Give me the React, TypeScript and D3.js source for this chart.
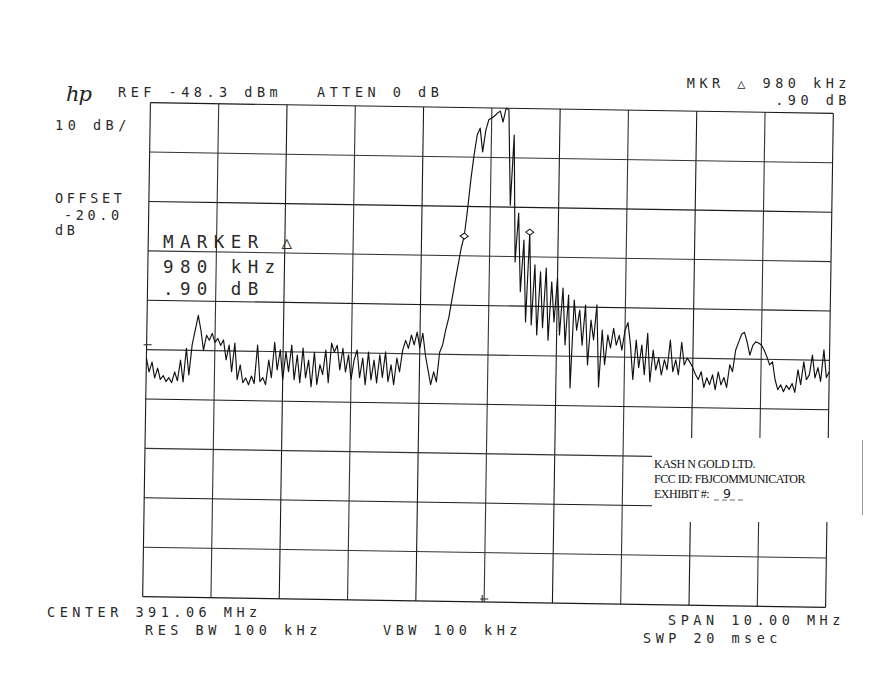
import React from "react";
import * as d3 from "d3";

// ---- Instrument settings (read from the annotations) ----
const centerMHz = 391.06;
const spanMHz = 10.0;
const refLevelDbm = -48.3;
const dbPerDiv = 10;
const xDivisions = 10;
const yDivisions = 10;

// ---- Header / footer annotation text ----
const headerLeft = ["REF -48.3 dBm", "ATTEN 0 dB"];
const headerRight = ["MKR \u25B3 980 kHz", ".90 dB"];
const sideLabels = ["10 dB/", "OFFSET", "-20.0", "dB"];
const markerBlock = ["MARKER \u25B3", "980 kHz", ".90 dB"];
const footerLabels = ["CENTER 391.06 MHz", "RES BW 100 kHz", "VBW 100 kHz", "SPAN 10.00 MHz", "SWP 20 msec"];
const stampLines = ["KASH N GOLD LTD.", "FCC ID:  FBJCOMMUNICATOR", "EXHIBIT #:"];
const exhibitNo = "9";

// ---- Trace (dBm), sweep points equally spaced across the span ----
const traceDbm = [
  -100.0, -102.8, -100.8, -104.0, -102.0, -104.3, -103.5, -104.7, -103.9, -104.9,
  -102.7, -104.5, -100.3, -104.7, -97.9, -103.3, -97.2, -94.2, -91.2, -94.2,
  -98.2, -95.2, -96.2, -94.8, -96.6, -95.8, -97.2, -96.1, -100.1, -97.1,
  -102.5, -96.7, -104.1, -101.1, -104.7, -103.7, -105.1, -103.3, -104.8, -97.0,
  -104.4, -103.6, -105.0, -100.0, -103.6, -96.4, -102.0, -97.9, -104.0, -98.3,
  -102.3, -96.9, -103.9, -98.9, -104.5, -97.5, -103.5, -99.9, -105.3, -98.3,
  -104.8, -100.8, -102.8, -97.8, -104.4, -96.4, -98.2, -96.8, -101.8, -97.4,
  -102.2, -98.7, -103.7, -99.7, -97.7, -103.3, -99.3, -104.7, -98.1, -103.7,
  -99.7, -104.3, -98.6, -103.2, -98.0, -104.0, -100.6, -104.6, -99.2, -102.0,
  -97.6, -95.6, -97.2, -94.5, -96.5, -93.9, -97.1, -94.1, -98.5, -101.5,
  -104.5, -101.9, -103.9, -97.9, -96.4, -93.4, -90.9, -87.3, -83.6, -80.2,
  -76.7, -74.3, -69.0, -62.9, -57.9, -53.8, -52.4, -57.2, -52.8, -50.7,
  -50.3, -49.9, -49.3, -48.9, -51.1, -48.3, -48.6, -67.9, -53.7, -79.4,
  -69.5, -85.4, -74.9, -91.5, -73.3, -92.1, -79.9, -94.1, -81.3, -92.6,
  -80.5, -95.1, -83.3, -91.4, -82.5, -94.0, -84.5, -96.0, -85.9, -104.7,
  -86.9, -93.0, -88.9, -96.0, -87.9, -100.0, -90.9, -94.9, -87.8, -104.4,
  -92.9, -99.9, -93.9, -96.5, -92.5, -95.9, -93.9, -96.9, -92.9, -91.3,
  -95.8, -102.8, -94.8, -100.4, -95.8, -101.8, -93.4, -103.2, -96.8, -100.8,
  -98.4, -101.8, -98.7, -100.7, -94.7, -101.1, -98.7, -101.7, -95.1, -99.7,
  -98.3, -99.1, -100.2, -101.6, -102.6, -101.0, -104.2, -102.2, -103.6, -101.6,
  -104.6, -101.0, -103.6, -102.1, -104.1, -99.5, -100.9, -96.5, -94.9, -93.3,
  -92.9, -94.9, -97.5, -95.5, -94.8, -95.0, -95.4, -96.4, -97.8, -99.4,
  -98.8, -102.4, -104.4, -103.4, -104.8, -103.5, -104.3, -103.1, -104.9, -100.3,
  -103.3, -98.7, -102.3, -101.3, -97.3, -101.9, -99.8, -102.6, -96.2, -101.8,
  -100.6,
];

// marker sweep-point indices (normal marker and delta marker)
const markerIndices = [111, 134];

const W = 878;
const H = 700;

const plotFont = "'DejaVu Sans Mono', monospace";

export default function App() {
  const startMHz = centerMHz - spanMHz / 2;
  const stopMHz = centerMHz + spanMHz / 2;
  const bottomDbm = refLevelDbm - dbPerDiv * yDivisions;

  const x = d3.scaleLinear().domain([startMHz, stopMHz]).range([146.5, 829.5]);
  const y = d3.scaleLinear().domain([bottomDbm, refLevelDbm]).range([602, 108]);

  const n = traceDbm.length;
  const freqs = traceDbm.map((_, i) => startMHz + (i * spanMHz) / (n - 1));
  const pts: [number, number][] = traceDbm.map((v, i) => [freqs[i], v]);

  const line = d3
    .line<[number, number]>()
    .x((d) => x(d[0]))
    .y((d) => y(d[1]));

  const vTicks = d3.range(xDivisions + 1).map((k) => startMHz + (k * spanMHz) / xDivisions);
  const hTicks = d3.range(yDivisions + 1).map((k) => bottomDbm + k * dbPerDiv);

  const cx = (x.range()[0] + x.range()[1]) / 2;
  const cy = (y.range()[0] + y.range()[1]) / 2;

  const smallText = { fontFamily: plotFont, fontSize: 13.5, letterSpacing: 4.5, fill: "#2a2a2a" } as const;
  const bigText = { fontFamily: plotFont, fontSize: 17.5, letterSpacing: 6.4, fill: "#2a2a2a" } as const;

  return (
    <svg
      width={W}
      height={H}
      viewBox={`0 0 ${W} ${H}`}
      style={{ position: "absolute", left: 0, top: 0, background: "#fff" }}
    >
      <rect x={0} y={0} width={W} height={H} fill="#fff" />

      {/* hp logo */}
      <text x={66} y={101} fontFamily="'DejaVu Serif', serif" fontStyle="italic" fontSize={21} fill="#222" letterSpacing={-1}>
        hp
      </text>

      {/* header */}
      <text x={118} y={97} {...smallText}>{headerLeft[0]}</text>
      <text x={317} y={97} {...smallText}>{headerLeft[1]}</text>
      <text x={851} y={88} textAnchor="end" {...smallText}>{headerRight[0]}</text>
      <text x={851} y={105} textAnchor="end" {...smallText}>{headerRight[1]}</text>

      {/* side labels */}
      <text x={55} y={130} {...smallText}>{sideLabels[0]}</text>
      <text x={55} y={203} {...smallText} letterSpacing={3.6}>{sideLabels[1]}</text>
      <text x={64} y={220} {...smallText} letterSpacing={3.6}>{sideLabels[2]}</text>
      <text x={55} y={235} {...smallText} letterSpacing={3.6}>{sideLabels[3]}</text>

      {/* footer */}
      <text x={47} y={617} {...smallText}>{footerLabels[0]}</text>
      <text x={145} y={635} {...smallText}>{footerLabels[1]}</text>
      <text x={383} y={635} {...smallText}>{footerLabels[2]}</text>
      <text x={668} y={625} {...smallText}>{footerLabels[3]}</text>
      <text x={643} y={643} {...smallText}>{footerLabels[4]}</text>

      {/* graticule + trace (the scanned sheet is tilted slightly) */}
      <g transform={`rotate(0.9 ${cx} ${cy})`}>
        {vTicks.map((f, k) => (
          <line
            key={"v" + k}
            x1={x(f)}
            x2={x(f)}
            y1={y.range()[1]}
            y2={y.range()[0]}
            stroke={k % 2 === 0 ? "#1a1a1a" : "#333"}
            strokeWidth={1.1}
          />
        ))}
        {hTicks.map((v, k) => (
          <line
            key={"h" + k}
            x1={x.range()[0]}
            x2={x.range()[1]}
            y1={y(v)}
            y2={y(v)}
            stroke={k % 2 === 0 ? "#1a1a1a" : "#333"}
            strokeWidth={1.1}
          />
        ))}
        {/* reference tick on left edge */}
        <line x1={x.range()[0] - 3} x2={x.range()[0] + 5} y1={y(-97.3)} y2={y(-97.3)} stroke="#222" strokeWidth={1} />
        {/* centre-frequency tick */}
        <line x1={x(centerMHz) - 4} x2={x(centerMHz) + 4} y1={y(bottomDbm) - 3} y2={y(bottomDbm) - 3} stroke="#222" strokeWidth={1} />
        <line x1={x(centerMHz) - 2} x2={x(centerMHz) - 2} y1={y(bottomDbm) - 7} y2={y(bottomDbm)} stroke="#222" strokeWidth={1} />

        <path d={line(pts) || ""} fill="none" stroke="#111" strokeWidth={1.15} strokeLinejoin="round" />

        {markerIndices.map((i) => {
          const px = x(freqs[i]);
          const py = y(traceDbm[i]);
          return (
            <path
              key={"m" + i}
              d={`M${px - 4},${py} L${px},${py - 3} L${px + 4},${py} L${px},${py + 3} Z`}
              fill="#fff"
              stroke="#111"
              strokeWidth={1}
            />
          );
        })}
      </g>

      {/* marker readout block */}
      <text x={163} y={248} {...bigText}>{markerBlock[0]}</text>
      <text x={163} y={273} {...bigText}>{markerBlock[1]}</text>
      <text x={163} y={295} {...bigText}>{markerBlock[2]}</text>

      {/* pasted exhibit label */}
      <rect x={652} y={438} width={211} height={84} fill="#fff" />
      <line x1={862.5} x2={862.5} y1={440} y2={515} stroke="#999" strokeWidth={1} />
      <g fontFamily="'Liberation Serif', 'Times New Roman', serif" fontSize={12} fill="#111">
        <text x={654} y={468} letterSpacing={-0.5}>{stampLines[0]}</text>
        <text x={654} y={483} letterSpacing={-0.5}>{stampLines[1]}</text>
        <text x={654} y={498} letterSpacing={-0.5}>{stampLines[2]}</text>
      </g>
      <text x={723} y={498} fontFamily="'DejaVu Sans', sans-serif" fontSize={12.5} fill="#222">{exhibitNo}</text>
      <line x1={714} x2={746} y1={500} y2={500} stroke="#444" strokeWidth={0.8} strokeDasharray="5,3" />
    </svg>
  );
}
